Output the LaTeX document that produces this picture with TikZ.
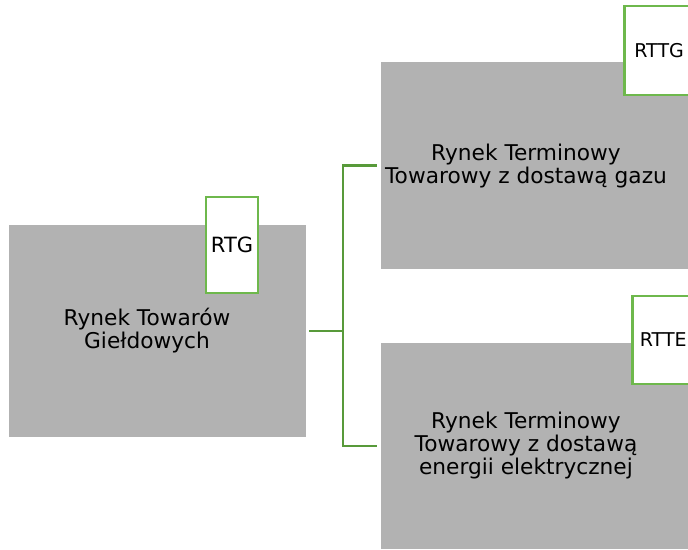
\documentclass[tikz,border=0pt]{standalone}
\usepackage{fontspec}
\setmainfont{DejaVu Sans}
\usepackage{tikz}
\definecolor{boxgray}{RGB}{178,178,178}
\definecolor{tagline}{RGB}{110,184,76}
\definecolor{linkline}{RGB}{88,154,58}
\tikzset{
  market/.style={rectangle,fill=boxgray,draw=none,inner sep=0pt},
  caption/.style={align=center,inner sep=0pt,font=\fontsize{21.7}{23}\selectfont},
  tag/.style={rectangle,fill=white,draw=tagline,line width=2.8pt,font=\fontsize{19}{22}\selectfont},
  link/.style={draw=linkline,line width=2.8pt}
}

\begin{document}
\begin{tikzpicture}[x=1pt,y=-1pt]
                    \clip (0,0) rectangle (688,549);
                    \node[market,minimum width=297pt,minimum height=212pt] (rtg) at (157.5,331) {};
                    \node[market,minimum width=307pt,minimum height=207pt] (rttg) at (534.5,165.5) {};
                    \node[market,minimum width=307pt,minimum height=206pt] (rtte) at (534.5,446) {};
                    \node[caption] (rtgtext) at (147,331) {Rynek Towarów\\Giełdowych};
                    \node[caption] (rttgtext) at (526,166) {Rynek Terminowy\\Towarowy z dostawą gazu};
                    \node[caption] (rttetext) at (526,446) {Rynek Terminowy\\Towarowy z dostawą\\energii elektrycznej};
                    \node[tag,minimum width=52pt,minimum height=96pt,inner sep=0pt,font=\fontsize{21}{22}\selectfont] (rtgtag) at (232,245) {RTG};
                    \node[tag,anchor=west,minimum height=89pt,inner xsep=10pt] (rttgtag) at (623,50.5) {RTTG};
                    \node[tag,anchor=west,minimum height=88pt,inner xsep=7.5pt] (rttetag) at (631,340) {RTTE};
                    \coordinate (fork) at (343,331);
                    \draw[link,shorten <=3pt] (rtg.east) -- (fork);
                    \draw[link,shorten <=4pt,shorten >=4pt] (rttg.west) -| (fork) |- (rtte.west);
                \end{tikzpicture}
\end{document}
